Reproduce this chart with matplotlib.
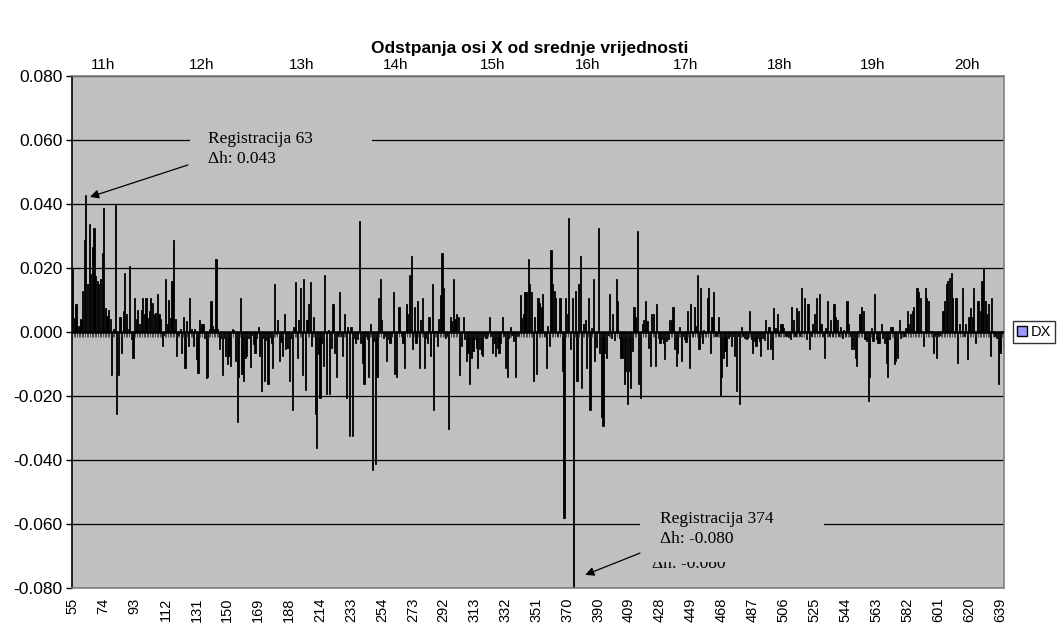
import matplotlib
matplotlib.use('Agg')
import matplotlib.pyplot as plt
import numpy as np
from matplotlib.patches import Patch, Rectangle
from matplotlib.ticker import FormatStrFormatter

plt.rcParams['font.family'] = ['Liberation Sans', 'DejaVu Sans']
plt.rcParams['axes.unicode_minus'] = False

# DX deviation per registration (mm)
dx_mm = [
    19.6, 4.5, 8.8, 2.0, 2.0, 4.0, 12.8, 28.6, 42.7, 15.0, 33.6, 18.0, 26.5, 32.6, 17.5, 16.0, 15.0, 16.7, 24.8, 38.6,
    7.6, 5.0, 6.8, 4.0, -13.4, 1.0, 39.6, -25.5, -13.4, 4.7, -6.5, 6.6, 18.5, 5.7, 1.0, 20.6, -2.3, -8.2, 10.7, 4.0,
    6.8, 2.4, 6.8, 10.7, 5.5, 10.7, 4.5, 6.6, 10.7, 9.2, 5.5, 6.0, 11.8, 5.5, 4.0, -4.4, -1.0, 16.7, 2.4, 9.9,
    4.5, 16.0, 28.6, 4.0, -7.5, -1.0, 1.0, -6.5, 4.7, -11.1, 3.4, -4.4, 10.7, 0.8, -4.4, 1.0, -8.5, -12.7, 3.6, 2.4,
    2.6, -2.0, -14.5, -14.2, 1.0, 9.7, 1.9, 1.0, 22.7, 1.0, -5.4, -1.8, -13.4, -2.0, -7.5, -10.1,
    -7.5, -10.6, 0.8, 0.5, -9.0, -28.0, -14.0, 10.7, -13.0, -15.3, -8.0, -7.5, -2.0, -11.0, -1.0, -3.8, -6.5, -2.0, 1.6, -7.5,
    -18.4, -2.0, -15.3, -2.5, -16.3, -1.5, -3.5, -11.1, 14.9, -0.7, 3.6, -9.0, -3.0, -7.5, 5.7, -5.4, -4.9, -15.3, -1.8, -24.4,
    1.6, 15.7, -8.0, 3.6, 13.6, -13.4, 16.7, -18.2, 3.6, 8.6, 15.7, -4.4, 4.7, -25.5, -36.3, -7.0, -20.5, -3.3, -10.6, 17.8,
    -19.4, 0.5, -19.4, -4.9, 8.6, -6.5, -14.2, -1.3, 12.6, -1.3, -7.5, 5.5, -20.5, 1.6, -32.4, 1.6, -32.4, -1.8, -3.3, -2.3,
    34.6, -3.3, -9.6, -16.3, -1.3, -2.3, -14.2, 2.6, -43.2, -2.8, -41.3, -14.2, 10.7, 16.7, 3.6, -1.8,
    -1.2, -9.0, -2.3, -3.3, -1.2, 12.6, -13.2, -14.2, 7.8, 7.8, -1.3, -3.3, -11.1, 8.8, 5.5, 17.8, 23.7, -5.4, 7.8, -3.3,
    9.7, -11.1, 3.6, 10.7, -11.1, -1.8, -3.3, 4.7, -7.5, 14.9, -24.4, 0.3, -4.4, 4.0, 11.5, 24.8, 13.6, -1.8, -1.3, -30.4,
    4.7, 3.4, 16.7, 4.0, 5.5, 4.7, -13.4, -4.4, 4.7, -2.3, -9.0, -6.5, -16.3, -8.0, -6.0, -2.3, -4.9, -11.1, -5.4, -7.0,
    -7.5, -1.3, -1.8, -0.8, 4.7, -1.3, -6.5, -3.3, -7.5, -4.9, -6.5, -3.3, 4.7, -1.3, -11.1, -14.2, -1.8, 1.6, -0.8, -2.8,
    -14.2, -1.3, -0.8, 11.5, 4.5, 5.7, 12.6, 12.6, 22.7, 14.9, 12.6, -15.3, 4.7, -13.2, 10.7, 9.2,
    7.8, 11.8, -1.3, -11.1, 1.9, -4.4, 25.6, 14.9, 12.8, 10.7, -1.3, 10.7, 10.7, -12.2, -58.0, 10.7, 5.5, 35.7, -5.4, 10.7,
    -80.0, 12.8, -15.3, 14.9, 23.7, -17.4, 2.4, 3.6, -11.1, 10.7, -24.4, 1.3, 16.7, -9.0, -4.7, 32.6, -6.5, -26.7, -29.3, -6.5,
    -8.0, -0.8, 11.8, -1.8, 5.5, -2.6, 16.7, 9.7, -1.8, -8.0, -8.0, -16.3, -12.2, -22.4, -12.2, -17.4, -6.0, 7.8, 4.7, 31.5,
    -16.3, -20.5, 2.4, 3.6, 9.7, 3.4, -4.9, -10.6, 5.5, 5.5, -10.6, 8.8, -1.8, -3.3, -2.3, -3.3, -8.5, -2.8, -2.3, 3.6,
    3.6, 7.8, -5.4, -10.6, -6.5, 1.6, -9.0, -1.3, -2.3, -3.0, 6.6, -11.1, 8.8, -1.3, 7.8, 2.0,
    17.8, -5.4, 13.6, -3.3, 0.5, -0.3, 10.7, 13.6, -6.5, 4.7, 12.6, -1.3, -1.3, 4.7, -19.7, -14.2, -8.2, -6.0, -10.6, -1.8,
    -1.3, -4.4, -1.3, -7.5, -18.4, -1.3, -22.4, 1.6, -1.3, -1.8, -2.3, -1.8, 6.6, -2.3, -6.5, -2.8, -4.4, -1.8, -2.8, -7.5,
    -1.8, -2.6, 3.6, -5.4, 1.6, -5.4, -8.5, 7.6, 1.3, 5.5, -1.3, 2.6, 2.6, 1.3, -1.3, -1.3, -1.6, -2.3, 7.8, 3.6,
    -1.3, 7.6, 6.6, -1.3, 13.6, 0.3, 10.7, -2.3, 8.8, -5.4, -1.3, 2.4, 5.7, 10.7, 0.3, 11.8, 2.4, -1.3, -8.2, 1.3,
    9.7, -1.3, 3.6, -1.3, 8.8, 4.7, 3.6, -1.3, 1.6, -1.8, 0.5, -1.3, 9.7, 2.6, -1.3, -5.4,
    -5.4, -8.0, -10.6, 0.3, 5.7, 7.8, 6.6, -2.3, -2.8, -21.5, -14.2, 1.3, -2.8, 11.8, -2.3, -3.3, -3.3, 2.6, -1.8, -3.3,
    -9.6, -14.2, -2.3, 1.6, 1.6, -10.1, -9.0, -8.0, 3.6, -1.8, 0.3, -1.3, 1.3, 6.6, 2.6, 5.5, 6.6, 7.8, 0.3, 13.6,
    12.6, 10.7, 0.3, -4.4, 13.6, 10.7, 9.7, 0.3, 0.3, -6.5, -1.3, -8.2, -1.3, -0.8, 0.3, 6.6, 9.7, 14.9, 16.0, 17.0,
    18.5, 10.7, 0.3, 10.7, -9.6, 2.4, 0.3, 13.6, -1.3, 2.4, -8.5, 4.7, 7.6, 4.7, 13.6, -3.3, 9.7, 9.7, 6.6, 16.0,
    19.6, 9.7, 5.5, 8.8, -7.5, 10.7, 0.3, -1.3, -1.8, -16.3, -6.5, 0.3, -5.0,
]
dx = np.array(dx_mm) / 1000.0
n = len(dx)
cat = np.arange(n)

tick_labels = ['55', '74', '93', '112', '131', '150', '169', '188', '214', '233', '254',
               '273', '292', '313', '332', '351', '370', '390', '409', '428', '449', '468',
               '487', '506', '525', '544', '563', '582', '601', '620', '639']
tick_step = 19

hour_labels = ['11h', '12h', '13h', '14h', '15h', '16h', '17h', '18h', '19h', '20h']
hour_pos = [18.7, 79.5, 140.7, 198.3, 258.4, 316.3, 376.6, 434.7, 492.0, 549.8]

ann1_idx, ann1_val = 8, 0.043
ann2_idx, ann2_val = 308, -0.080

fig = plt.figure(figsize=(10.58, 6.30), dpi=100)
ax = fig.add_axes([72/1058, 42/630, 932/1058, 512/630])
ax.set_facecolor('#C0C0C0')
ax.set_xlim(-0.5, n - 0.5)
ax.set_ylim(-0.08, 0.08)
ax.set_yticks(np.round(np.arange(-0.08, 0.0801, 0.02), 3))
ax.yaxis.set_major_formatter(FormatStrFormatter('%.3f'))
ax.set_axisbelow(True)
ax.grid(axis='y', color='black', linewidth=0.9)
ax.grid(axis='x', visible=False)

ax.bar(cat, dx, width=0.7, color='black', edgecolor='black', linewidth=0.6, zorder=2)
ax.vlines(np.arange(n + 1) - 0.5, -0.0016, 0, color='#202020', linewidth=0.5, zorder=3)
ax.axhline(0, color='black', linewidth=1.8, zorder=3)

for s in ['top', 'right', 'bottom']:
    ax.spines[s].set_color('#808080')
    ax.spines[s].set_linewidth(1.2)
ax.spines['left'].set_color('black')
ax.spines['left'].set_linewidth(1.2)

ticks = np.arange(0, n, tick_step)[:len(tick_labels)]
ax.set_xticks(ticks)
ax.set_xticklabels(tick_labels, rotation=90, fontsize=10.5)
ax.tick_params(axis='x', length=0, pad=7)
ax.tick_params(axis='y', length=4, width=1, labelsize=12.5, pad=3)

axt = ax.twiny()
axt.set_xlim(ax.get_xlim())
axt.set_xticks(hour_pos)
axt.set_xticklabels(hour_labels, fontsize=11)
axt.tick_params(axis='x', length=0, pad=3)
for s in axt.spines.values():
    s.set_visible(False)

# annotation boxes (hide gridline behind labels)
ax.add_patch(Rectangle((0.1266, 0.807), 0.195, 0.097, transform=ax.transAxes,
                       facecolor='#C0C0C0', edgecolor='none', zorder=1))
ax.add_patch(Rectangle((0.609, 0.0515), 0.198, 0.1105, transform=ax.transAxes,
                       facecolor='#C0C0C0', edgecolor='none', zorder=1))

serif = ['Liberation Serif', 'DejaVu Serif']
ax.text(356, -0.0737, 'Δh: -0.080', family=serif, fontsize=12.5, va='baseline', zorder=0.9)
ax.text(83.1, 0.0628, 'Registracija 63\nΔh: 0.043', family=serif, fontsize=12.5,
        va='top', linespacing=1.35, zorder=5)
ax.text(361, -0.0560, 'Registracija 374\nΔh: -0.080', family=serif, fontsize=12.5,
        va='top', linespacing=1.35, zorder=5)

ax.annotate('', xy=(ann1_idx + 2.5, ann1_val - 0.0008), xytext=(70.8, 0.0522),
            arrowprops=dict(arrowstyle='-|>', color='black', lw=0.9, mutation_scale=13,
                            shrinkA=0, shrinkB=0), zorder=6)
ax.annotate('', xy=(ann2_idx + 7, ann2_val + 0.0041), xytext=(348.7, -0.0691),
            arrowprops=dict(arrowstyle='-|>', color='black', lw=0.9, mutation_scale=13,
                            shrinkA=0, shrinkB=0), zorder=6)

fig.text(0.501, 1 - 48/630, 'Odstpanja osi X od srednje vrijednosti', ha='center', va='center',
         fontweight='bold', fontsize=12.5)

fig.legend(handles=[Patch(facecolor='#9999FF', edgecolor='black', label='DX')],
           loc='center left', bbox_to_anchor=(1013/1058, 1 - 332/630), frameon=True,
           fancybox=False, edgecolor='black', fontsize=10.5, handlelength=0.7,
           handleheight=0.7, handletextpad=0.3, borderpad=0.25, borderaxespad=0)

fig.savefig('out.png', dpi=100)
